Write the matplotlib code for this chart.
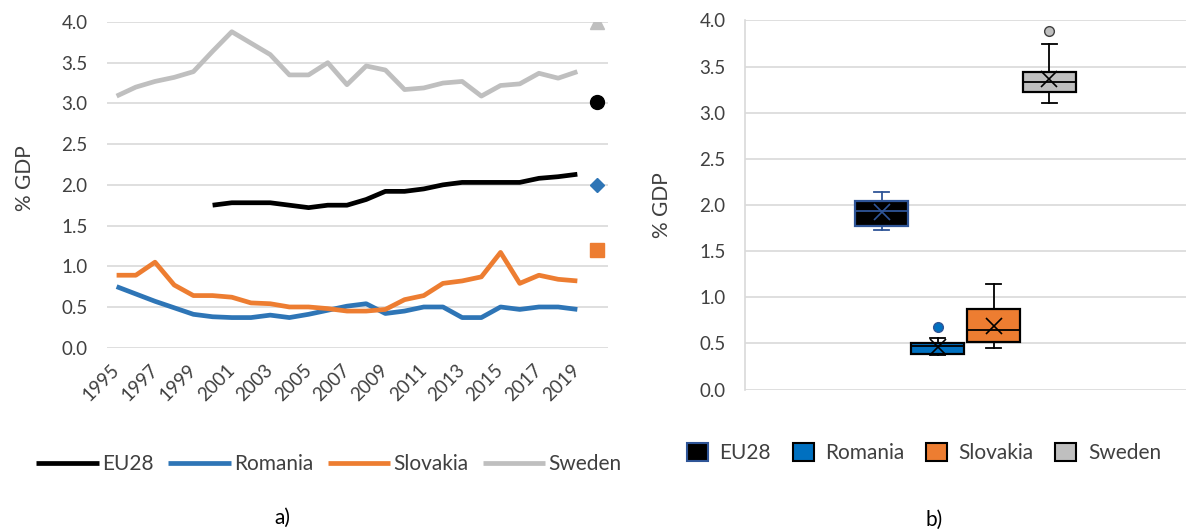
import matplotlib.pyplot as plt
import numpy as np
from matplotlib.patches import Patch

plt.rcParams['font.family'] = ['Lato', 'DejaVu Sans']

nan = np.nan
years = np.arange(1995, 2020)
eu28 = [nan] * 5 + [1.75, 1.78, 1.78, 1.78, 1.75, 1.72, 1.75, 1.75, 1.82, 1.92,
                    1.92, 1.95, 2.00, 2.03, 2.03, 2.03, 2.03, 2.08, 2.10, 2.13]
romania = [0.75, 0.66, 0.57, 0.49, 0.41, 0.38, 0.37, 0.37, 0.40, 0.37, 0.41, 0.46, 0.51,
           0.54, 0.42, 0.45, 0.50, 0.50, 0.37, 0.37, 0.50, 0.47, 0.50, 0.50, 0.47]
slovakia = [0.89, 0.89, 1.05, 0.77, 0.64, 0.64, 0.62, 0.55, 0.54, 0.50, 0.50, 0.48, 0.45,
            0.45, 0.47, 0.59, 0.64, 0.79, 0.82, 0.87, 1.17, 0.79, 0.89, 0.84, 0.82]
sweden = [3.09, 3.20, 3.27, 3.32, 3.39, 3.64, 3.88, 3.74, 3.60, 3.35, 3.35, 3.50, 3.23,
          3.46, 3.41, 3.17, 3.19, 3.25, 3.27, 3.09, 3.22, 3.24, 3.37, 3.31, 3.39]

# 2020 targets (single markers)
target_year = 2020
targets = {"EU28": 3.02, "Romania": 2.0, "Slovakia": 1.2, "Sweden": 4.0}

# box plot stats read from panel b)
names = ["EU28", "Romania", "Slovakia", "Sweden"]
whislo = [1.73, 0.37, 0.455, 3.11]
q1 = [1.77, 0.385, 0.517, 3.22]
med = [1.93, 0.47, 0.646, 3.33]
q3 = [2.04, 0.50, 0.872, 3.44]
whishi = [2.14, 0.563, 1.148, 3.74]
means = [1.92, 0.465, 0.69, 3.37]
fliers = [[], [0.675], [], [3.88]]

line_colors = {"EU28": "black", "Romania": "#2E75B6", "Slovakia": "#ED7D31", "Sweden": "#BFBFBF"}
box_face = ["black", "#0070C0", "#ED7D31", "#BFBFBF"]
box_edge = ["#2F5597", "black", "black", "black"]
box_line = ["#2F5597", "black", "black", "black"]
flier_edge = ["#2F5597", "#2F5597", "black", "#404040"]

tick_col = "#404040"
grid_col = "#D9D9D9"
fs_tick = 13.5
fs_leg = 15

fig = plt.figure(figsize=(11.89, 5.31), dpi=100)

# ---- panel a) ----
ax1 = fig.add_axes([0.09, 0.3452, 0.4214, 0.6134])
series = {"EU28": eu28, "Romania": romania, "Slovakia": slovakia, "Sweden": sweden}
for name, vals in series.items():
    ax1.plot(years, vals, color=line_colors[name], lw=3.4, label=name, solid_capstyle="butt")

ax1.plot(target_year, targets["Sweden"], marker="^", ms=10.5, color="#BFBFBF", ls="none")
ax1.plot(target_year, targets["EU28"], marker="o", ms=10, color="black", ls="none")
ax1.plot(target_year, targets["Romania"], marker="D", ms=7, color="#2E75B6", ls="none")
ax1.plot(target_year, targets["Slovakia"], marker="s", ms=9.5, color="#ED7D31", ls="none")

ax1.set_xlim(1994.5, 2020.6)
ax1.set_ylim(0, 4)
ax1.set_yticks(np.arange(0, 4.01, 0.5))
ax1.set_yticklabels([f"{v:.1f}" for v in np.arange(0, 4.01, 0.5)])
ax1.set_xticks(years[::2])
ax1.set_xticklabels([str(y) for y in years[::2]], rotation=45, ha="right",
                    va="center", rotation_mode="anchor")
ax1.tick_params(axis="y", length=0, pad=14, labelsize=fs_tick, labelcolor=tick_col)
ax1.tick_params(axis="x", length=0, pad=14, labelsize=fs_tick, labelcolor=tick_col)
ax1.grid(axis="y", color=grid_col, lw=1.2)
ax1.set_axisbelow(True)
for s in ax1.spines.values():
    s.set_visible(False)

ax1.legend(loc="center", bbox_to_anchor=(329 / 1189, 1 - 464 / 531),
           bbox_transform=fig.transFigure, ncol=4, frameon=False, fontsize=fs_leg,
           handlelength=3.0, handletextpad=0.15, columnspacing=0.7,
           labelcolor=tick_col)

fig.text(25 / 1189, 1 - 178 / 531, "% GDP", rotation=90, ha="center", va="center",
         fontsize=fs_leg, color=tick_col)
fig.text(282 / 1189, 1 - 518 / 531, "a)", ha="center", va="center", fontsize=fs_leg)

# ---- panel b) ----
ax2 = fig.add_axes([0.6266, 0.2663, 0.3709, 0.6953])
for i, name in enumerate(names):
    st = [dict(label=name, whislo=whislo[i], q1=q1[i], med=med[i], q3=q3[i],
               whishi=whishi[i], mean=means[i], fliers=fliers[i])]
    ax2.bxp(st, positions=[i + 1], widths=0.95, patch_artist=True, showmeans=True,
            boxprops=dict(facecolor=box_face[i], edgecolor=box_edge[i], lw=1.6),
            medianprops=dict(color=box_line[i], lw=1.3),
            whiskerprops=dict(color=box_line[i], lw=1.3),
            capprops=dict(color=box_line[i], lw=1.3),
            capwidths=0.27,
            meanprops=dict(marker="x", markersize=12, markeredgecolor=box_line[i],
                           markeredgewidth=1.2),
            flierprops=dict(marker="o", markersize=7, markerfacecolor=box_face[i],
                            markeredgecolor=flier_edge[i], markeredgewidth=1))

ax2.set_xlim(-1.44, 6.44)
ax2.set_ylim(0, 4)
ax2.set_yticks(np.arange(0, 4.01, 0.5))
ax2.set_yticklabels([f"{v:.1f}" for v in np.arange(0, 4.01, 0.5)])
ax2.set_xticks([])
ax2.tick_params(axis="y", length=0, pad=14, labelsize=fs_tick, labelcolor=tick_col)
ax2.grid(axis="y", color=grid_col, lw=1.2)
ax2.set_axisbelow(True)
for s in ["top", "right", "bottom"]:
    ax2.spines[s].set_visible(False)
ax2.spines["left"].set_color(grid_col)
ax2.spines["left"].set_linewidth(1.2)

handles = [Patch(facecolor=box_face[i], edgecolor=box_edge[i], lw=1.5, label=names[i])
           for i in range(4)]
ax2.legend(handles=handles, loc="center", bbox_to_anchor=(924 / 1189, 1 - 453 / 531),
           bbox_transform=fig.transFigure, ncol=4, frameon=False, fontsize=fs_leg,
           handlelength=1.0, handleheight=1.0, handletextpad=0.55, columnspacing=1.05,
           labelcolor=tick_col)

fig.text(662 / 1189, 1 - 205 / 531, "% GDP", rotation=90, ha="center", va="center",
         fontsize=fs_leg, color=tick_col)
fig.text(934 / 1189, 1 - 520 / 531, "b)", ha="center", va="center", fontsize=fs_leg)

fig.savefig("out.png", dpi=100)
